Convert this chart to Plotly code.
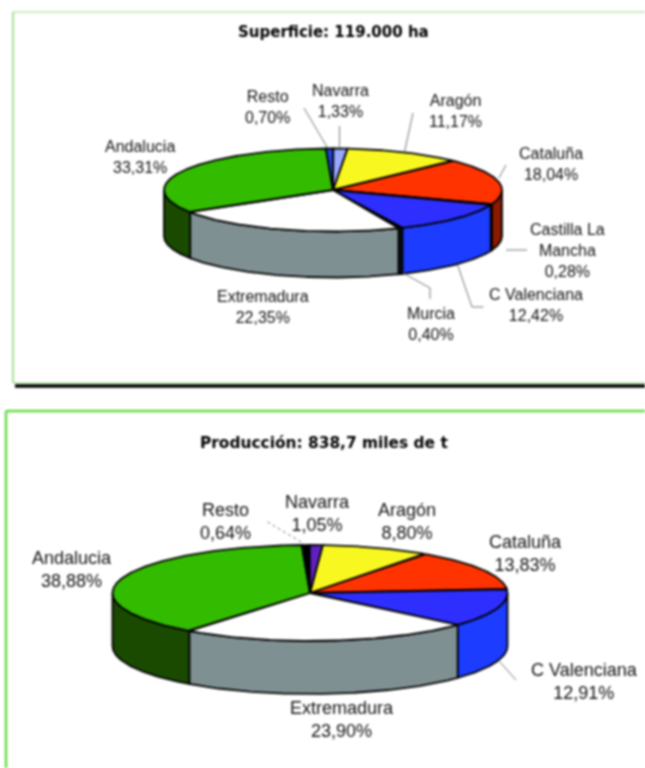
import numpy as np
import plotly.graph_objects as go

# ---- data ----
sup_names = ["Aragón", "Cataluña", "Castilla La Mancha", "C Valenciana", "Murcia", "Extremadura", "Andalucia", "Resto", "Navarra"]
sup_values = [11.17, 18.04, 0.28, 12.42, 0.40, 22.35, 33.31, 0.70, 1.33]
sup_top = ["#F8F820", "#FF3300", "#101010", "#2E2EFF", "#101010", "#FFFFFF", "#33BB00", "#2244DD", "#99A8FF"]
sup_side = ["#8A8A10", "#8B1A00", "#8B1A00", "#1C3CFF", "#101010", "#7F9093", "#1A4A00", "#112288", "#4C5480"]

pro_names = ["Aragón", "Cataluña", "C Valenciana", "Extremadura", "Andalucia", "Resto", "Navarra"]
pro_values = [8.80, 13.83, 12.91, 23.90, 38.88, 0.64, 1.05]
pro_top = ["#F8F820", "#FF3300", "#2E2EFF", "#FFFFFF", "#33BB00", "#000000", "#6020C0"]
pro_side = ["#8A8A10", "#8B1A00", "#1C3CFF", "#7F9093", "#1A4A00", "#000000", "#301060"]

sup_title = "Superficie: 119.000 ha"
pro_title = "Producción: 838,7 miles de t"

sup_labels = [("Resto<br>0,70%", 267, 106.5), ("Navarra<br>1,33%", 340, 100.5), ("Aragón<br>11,17%", 455, 110.5),
              ("Cataluña<br>18,04%", 551, 163.5), ("Castilla La<br>Mancha<br>0,28%", 567, 250),
              ("C Valenciana<br>12,42%", 536, 305), ("Murcia<br>0,40%", 431, 324),
              ("Extremadura<br>22,35%", 262.5, 306.5), ("Andalucia<br>33,31%", 140, 157)]
pro_labels = [("Resto<br>0,64%", 225, 521.5), ("Navarra<br>1,05%", 317, 513), ("Aragón<br>8,80%", 407, 521),
              ("Cataluña<br>13,83%", 525, 553), ("C Valenciana<br>12,91%", 584, 681.5),
              ("Extremadura<br>23,90%", 341.5, 719), ("Andalucia<br>38,88%", 72, 569)]

sup_leaders = [[(304, 108), (327, 147)], [(339.5, 126), (339.5, 147)], [(413, 113), (404.5, 152)], [(506, 165), (499, 178)],
               [(506, 250), (527, 250)], [(457.6, 265), (472, 307), (483.5, 307)], [(403, 273), (430, 288), (430, 299)]]
pro_leaders = [[(267.5, 522), (304.5, 544)], [(500, 662), (516, 680)]]

fig = go.Figure()


def arc(cx, cy, rx, ry, a0, a1):
    n = max(2, int(abs(a1 - a0) * 2) + 2)
    t = np.radians(np.linspace(a0, a1, n))
    return cx + rx * np.sin(t), cy - ry * np.cos(t)


def pie3d(values, tops, sides, names, cx, cy, rx, ry, depth, start):
    edges = start + np.concatenate([[0], np.cumsum(values)]) * 360.0 / sum(values)
    # side walls (only the front half, theta 90..270, is visible)
    for i, v in enumerate(values):
        a0, a1 = max(edges[i], 90), min(edges[i + 1], 270)
        if a1 <= a0:
            continue
        x, y = arc(cx, cy, rx, ry, a0, a1)
        px = np.concatenate([x, x[::-1], x[:1]])
        py = np.concatenate([y, y[::-1] + depth, y[:1]])
        fig.add_trace(go.Scatter(x=px, y=py, mode="lines", fill="toself", fillcolor=sides[i], name=names[i],
                                 line=dict(color="#000000", width=1.8), hoverinfo="name"))
    # top faces
    for i, v in enumerate(values):
        x, y = arc(cx, cy, rx, ry, edges[i], edges[i + 1])
        px = np.concatenate([[cx], x, [cx]])
        py = np.concatenate([[cy], y, [cy]])
        fig.add_trace(go.Scatter(x=px, y=py, mode="lines", fill="toself", fillcolor=tops[i], name=names[i],
                                 line=dict(color="#000000", width=1.8), hoverinfo="name"))


def leaders(items, dash="solid"):
    for pts in items:
        fig.add_trace(go.Scatter(x=[p[0] for p in pts], y=[p[1] for p in pts], mode="lines",
                                 line=dict(color="#777777", width=1, dash=dash), hoverinfo="skip"))


pie3d(sup_values, sup_top, sup_side, sup_names, 333, 190, 169, 41.5, 46, 4.9)
pie3d(pro_values, pro_top, pro_side, pro_names, 310, 593, 197.5, 48, 53, 3.7)
leaders(sup_leaders)
leaders(pro_leaders[:1], "dot")
leaders(pro_leaders[1:])

ann = []
for t, x, y in sup_labels:
    ann.append(dict(x=x, y=y, text=t, showarrow=False, font=dict(family="Liberation Sans", size=16, color="#111111")))
for t, x, y in pro_labels:
    ann.append(dict(x=x, y=y, text=t, showarrow=False, font=dict(family="Liberation Sans", size=18, color="#111111")))
ann.append(dict(x=333, y=32, text=sup_title, showarrow=False, font=dict(family="DejaVu Sans", size=15, color="#000000", weight="bold")))
ann.append(dict(x=323.5, y=443, text=pro_title, showarrow=False, font=dict(family="DejaVu Sans", size=15.4, color="#000000", weight="bold")))

shapes = [
    dict(type="line", x0=13, y0=12, x1=645, y1=12, line=dict(color="#CDEBC4", width=2)),
    dict(type="line", x0=13, y0=12, x1=13, y1=383, line=dict(color="#A8E09A", width=2)),
    dict(type="line", x0=13, y0=383, x1=645, y1=383, line=dict(color="#A8E09A", width=1.5)),
    dict(type="line", x0=15, y0=386, x1=645, y1=386, line=dict(color="#000000", width=3.5)),
    dict(type="line", x0=6, y0=411, x1=645, y1=411, line=dict(color="#66DD44", width=2.5)),
    dict(type="line", x0=6, y0=411, x1=6, y1=768, line=dict(color="#66DD44", width=2.5)),
]

fig.update_layout(width=645, height=768, margin=dict(l=0, r=0, t=0, b=0), showlegend=False,
                  paper_bgcolor="white", plot_bgcolor="white", annotations=ann, shapes=shapes,
                  xaxis=dict(range=[0, 645], visible=False, fixedrange=True),
                  yaxis=dict(range=[768, 0], visible=False, fixedrange=True))

fig.write_html("out.html", config={"displayModeBar": False},
               post_script="document.body.style.margin='0';document.body.style.overflow='hidden';"
                           "document.querySelector('.plot-container').style.filter='blur(0.8px)';")
